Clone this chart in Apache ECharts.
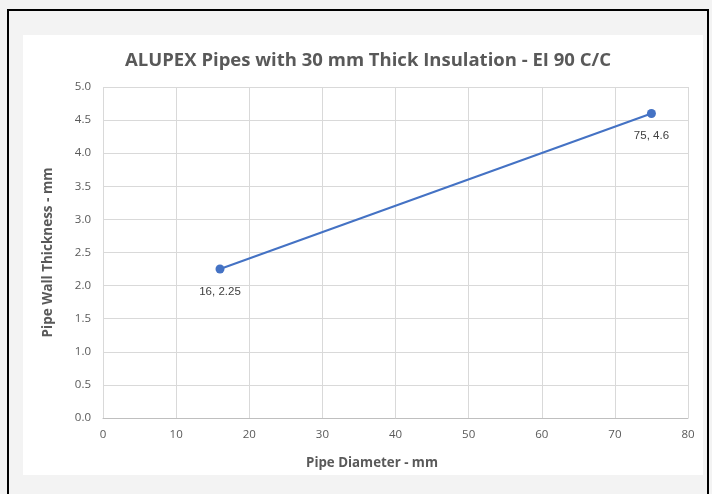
<!DOCTYPE html>
<html>
<head>
<meta charset="utf-8">
<script src="https://cdn.jsdelivr.net/npm/echarts@6/dist/echarts.min.js"></script>
<style>html,body{margin:0;padding:0;background:#f3f3f3;}#c{width:712px;height:494px;}</style>
</head>
<body>
<div id="c"></div>
<script>
const chartTitle = 'ALUPEX Pipes with 30 mm Thick Insulation - EI 90 C/C';
const xAxisTitle = 'Pipe Diameter - mm';
const yAxisTitle = 'Pipe Wall Thickness - mm';
const diameters = [16, 75];
const thickness = [2.25, 4.6];
const xRange = [0, 80, 10];
const yRange = [0, 5, 0.5];

const points = diameters.map((d, i) => [d, thickness[i]]);
const chart = echarts.init(document.getElementById('c'));
const font = 'Open Sans, Liberation Sans, sans-serif';
chart.setOption({
  backgroundColor: '#f3f3f3',
  animation: false,
  graphic: [
    { type: 'rect', z: -10, shape: { x: 23, y: 35, width: 680, height: 440 }, style: { fill: '#ffffff' } },
    { type: 'line', z: 100, shape: { x1: 7, y1: 10, x2: 709, y2: 10 }, style: { stroke: '#000', lineWidth: 2 } },
    { type: 'line', z: 100, shape: { x1: 8, y1: 10, x2: 8, y2: 494 }, style: { stroke: '#000', lineWidth: 2 } },
    { type: 'line', z: 100, shape: { x1: 708, y1: 10, x2: 708, y2: 494 }, style: { stroke: '#000', lineWidth: 2 } }
  ],
  title: [
    { text: chartTitle, left: 363, top: 46, textAlign: 'center',
      textStyle: { fontFamily: font, fontSize: 18.5, fontWeight: 'bold', color: '#595959' } },
    { text: xAxisTitle, left: 367, top: 452, textAlign: 'center',
      textStyle: { fontFamily: font, fontSize: 13.3, fontWeight: 'bold', color: '#595959' } }
  ],
  grid: { left: 103, right: 24, top: 87, bottom: 76 },
  xAxis: {
    type: 'value', min: xRange[0], max: xRange[1], interval: xRange[2],
    axisLine: { show: true, lineStyle: { color: '#bfbfbf' } },
    axisTick: { show: false },
    splitLine: { show: true, lineStyle: { color: '#d9d9d9' } },
    axisLabel: { color: '#595959', fontFamily: font, fontSize: 11.5, margin: 11 }
  },
  yAxis: {
    type: 'value', min: yRange[0], max: yRange[1], interval: yRange[2],
    name: yAxisTitle, nameLocation: 'middle', nameGap: 48,
    nameTextStyle: { color: '#595959', fontFamily: font, fontSize: 13.5, fontWeight: 'bold',
      padding: [0, 0, 0, 0] },
    axisLine: { show: false },
    axisTick: { show: false },
    splitLine: { show: true, lineStyle: { color: '#d9d9d9' } },
    axisLabel: { color: '#595959', fontFamily: font, fontSize: 11.5, margin: 12,
      formatter: v => v.toFixed(1) }
  },
  series: [{
    type: 'line', data: points,
    symbol: 'circle', symbolSize: 9,
    lineStyle: { color: '#4472c4', width: 2 },
    itemStyle: { color: '#4472c4' },
    label: {
      show: true, position: 'bottom', distance: 12,
      color: '#404040', fontFamily: 'Liberation Sans, Arial, sans-serif', fontSize: 11.5,
      formatter: p => p.value[0] + ', ' + p.value[1]
    }
  }]
});
</script>
</body>
</html>
